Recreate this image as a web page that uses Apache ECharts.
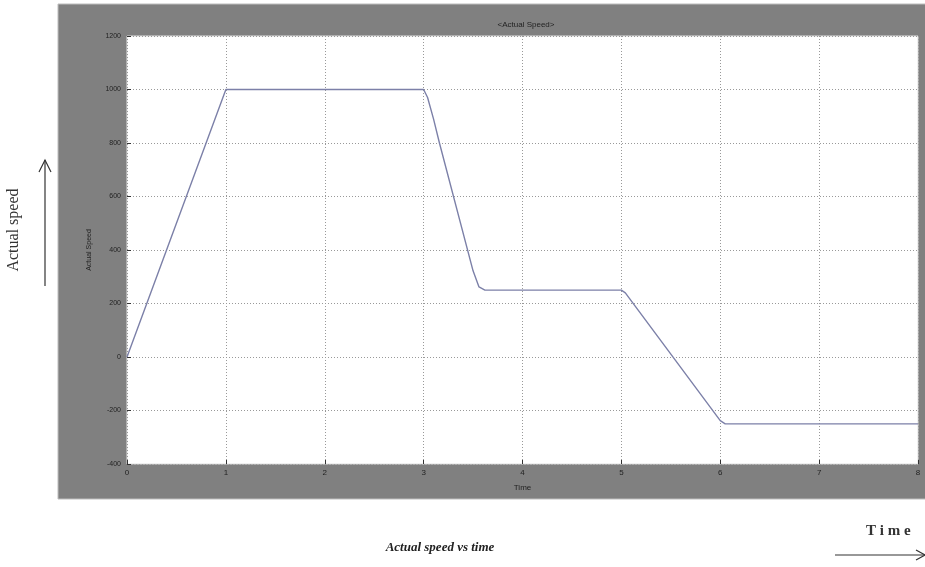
<!DOCTYPE html>
<html><head><meta charset="utf-8">
<script src="https://cdn.jsdelivr.net/npm/echarts@6/dist/echarts.min.js"></script>
<style>html,body{margin:0;padding:0;background:#fff}#c{width:925px;height:567px}</style>
</head><body><div id="c"></div>
<script>
const timeValues = [0, 1, 3, 3.04, 3.1, 3.16, 3.5, 3.56, 3.62, 5, 5.04, 6, 6.05, 6.1, 8];
const speedValues = [0, 1000, 1000, 970, 890, 800, 322, 262, 250, 250, 240, -238, -250, -250, -250];
const yTicks = [-400, -200, 0, 200, 400, 600, 800, 1000, 1200];
const xTicks = [0, 1, 2, 3, 4, 5, 6, 7, 8];
const chartTitle = '<Actual Speed>';
const xName = 'Time';
const yName = 'Actual Speed';

const chart = echarts.init(document.getElementById('c'));
const seriesData = timeValues.map((t, i) => [t, speedValues[i]]);
chart.setOption({
  animation: false,
  backgroundColor: '#fff',
  title: {text: chartTitle, left: 521, top: 16, textAlign: 'center',
    textStyle: {fontSize: 8, fontWeight: 'normal', color: '#222', fontFamily: 'Liberation Sans'}},
  graphic: [
    {type: 'rect', z: -10, silent: true, shape: {x: 58, y: 4, width: 870, height: 495},
      style: {fill: '#808080', stroke: '#bdbdbd', lineWidth: 1}},
    {type: 'text', rotation: Math.PI / 2, x: 14, y: 230,
      style: {text: 'Actual speed', font: '16px "Liberation Serif"', fill: '#333', textAlign: 'center', textVerticalAlign: 'middle'}},
    {type: 'line', shape: {x1: 45, y1: 286, x2: 45, y2: 160}, style: {stroke: '#333', lineWidth: 1.2}},
    {type: 'polyline', shape: {points: [[39, 172], [45, 160], [51, 172]]}, style: {stroke: '#333', lineWidth: 1.2, fill: null}},
    {type: 'text', x: 440, y: 548,
      style: {text: 'Actual speed vs time', font: 'italic bold 13px "Liberation Serif"', fill: '#222', textAlign: 'center', textVerticalAlign: 'middle'}},
    {type: 'text', x: 866, y: 531,
      style: {text: 'T i m e', font: 'bold 15px "Liberation Serif"', fill: '#333', textAlign: 'left', textVerticalAlign: 'middle'}},
    {type: 'line', shape: {x1: 835, y1: 555, x2: 925, y2: 555}, style: {stroke: '#333', lineWidth: 1.2}},
    {type: 'polyline', shape: {points: [[916, 550], [925, 555], [916, 560]]}, style: {stroke: '#333', lineWidth: 1.2, fill: null}}
  ],
  grid: {left: 127, right: 7, top: 36, bottom: 103, show: true, backgroundColor: '#fff', borderColor: '#e0e0e0', borderWidth: 1},
  xAxis: {type: 'value', min: 0, max: 8, interval: 1,
    name: xName, nameLocation: 'middle', nameGap: 20,
    nameTextStyle: {fontSize: 8, color: '#222', fontFamily: 'Liberation Sans'},
    axisLine: {show: false, onZero: false}, axisTick: {show: true, inside: true, length: 4, lineStyle: {color: '#333'}},
    axisLabel: {fontSize: 8, color: '#222', margin: 5, fontFamily: 'Liberation Sans',
      formatter: v => xTicks.includes(v) ? String(v) : ''},
    splitLine: {show: true, lineStyle: {color: '#999', type: [1, 2], width: 1}}},
  yAxis: {type: 'value', min: -400, max: 1200, interval: 200,
    name: yName, nameLocation: 'middle', nameGap: 34, nameRotate: 90,
    nameTextStyle: {fontSize: 7, color: '#222', fontFamily: 'Liberation Sans'},
    axisLine: {show: false, onZero: false}, axisTick: {show: true, inside: true, length: 4, lineStyle: {color: '#333'}},
    axisLabel: {fontSize: 7, color: '#222', margin: 6, fontFamily: 'Liberation Sans',
      formatter: v => yTicks.includes(v) ? String(v) : ''},
    splitLine: {show: true, lineStyle: {color: '#999', type: [1, 2], width: 1}}},
  series: [{type: 'line', data: seriesData, showSymbol: false, smooth: false,
    lineStyle: {color: '#7c80a8', width: 1.4}}]
});
</script></body></html>
